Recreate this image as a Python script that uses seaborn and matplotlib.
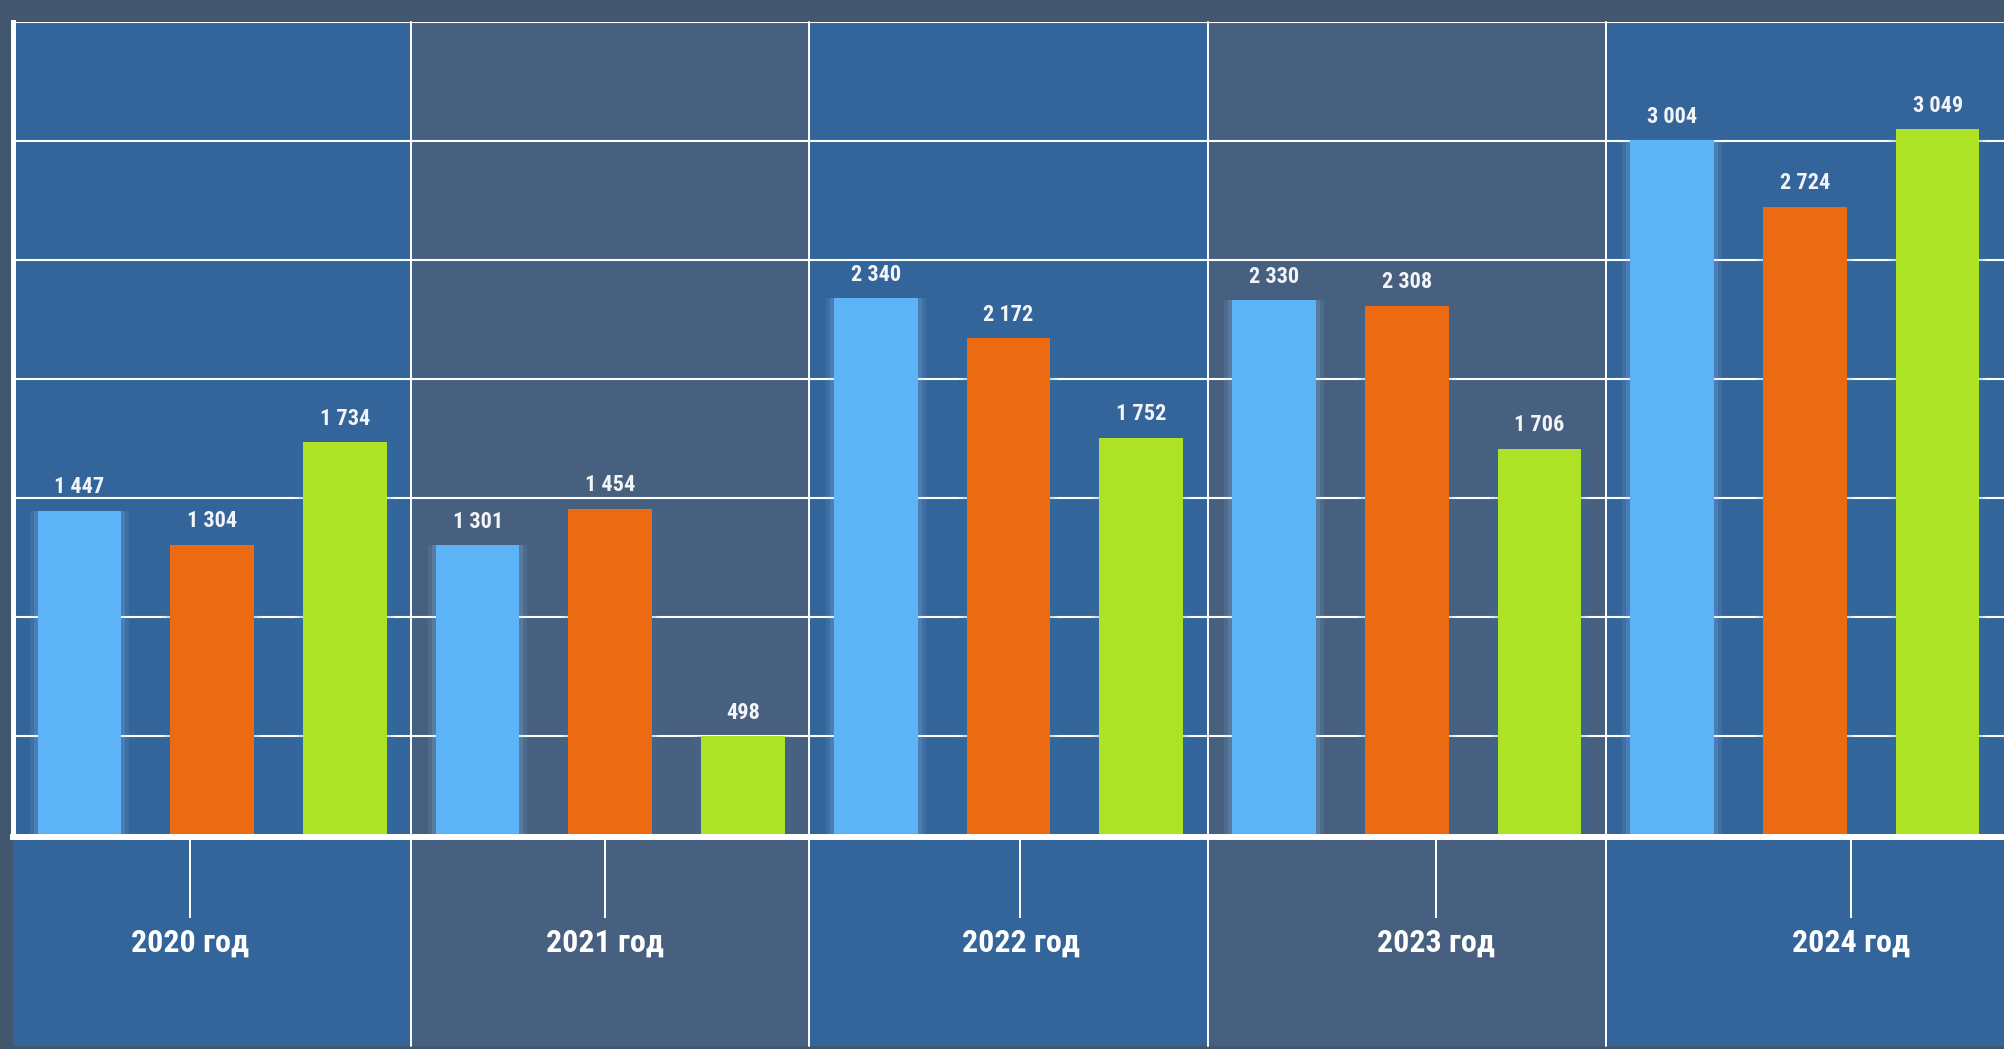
import matplotlib
matplotlib.use("Agg")
import matplotlib.pyplot as plt
from matplotlib import font_manager as fm
import seaborn as sns
import pandas as pd

# ---- data ----
years = ["2020 год", "2021 год", "2022 год", "2023 год", "2024 год"]
series_names = ["Ряд 1", "Ряд 2", "Ряд 3"]
series1 = [1447, 1301, 2340, 2330, 3004]
series2 = [1304, 1454, 2172, 2308, 2724]
series3 = [1734, 498, 1752, 1706, 3049]
bar_colors = ["#5cb3f5", "#ec6a12", "#aee224"]
grid_values = [500, 1000, 1500, 2000, 2500, 3000, 3500]

df = pd.DataFrame({
    "year": years * 3,
    "series": [series_names[0]] * 5 + [series_names[1]] * 5 + [series_names[2]] * 5,
    "value": series1 + series2 + series3,
})

# ---- font choice ----
available = {f.name for f in fm.fontManager.ttflist}
family = "DejaVu Sans"
for cand in ["Liberation Sans Narrow", "Roboto Condensed", "Open Sans Condensed", "DejaVu Sans"]:
    if cand in available:
        family = cand
        break

sns.set_theme(style="white")
plt.rcParams["font.family"] = [family, "DejaVu Sans"]

W, H = 2004, 1049
fig = plt.figure(figsize=(W / 100, H / 100), dpi=100, facecolor="#42566e")
left_px, top_px, base_px = 13, 22, 837
ax = fig.add_axes([left_px / W, 1 - base_px / H, (W - left_px) / W, (base_px - top_px) / H])
ax.set_facecolor("none")

# background panels (alternating)
panel_colors = ["#34659a", "#48607f"]
trans = ax.get_xaxis_transform()
ymin_ax = -(H - 3 - base_px) / (base_px - top_px)
for i in range(len(years)):
    ax.add_patch(plt.Rectangle((i - 0.5, ymin_ax), 1.0, 1 - ymin_ax, transform=trans,
                               facecolor=panel_colors[i % 2], edgecolor="none",
                               clip_on=False, zorder=0))
for i in range(len(years) - 1):
    ax.plot([i + 0.5, i + 0.5], [ymin_ax, 1.0], transform=trans, color="white",
            lw=1.4, clip_on=False, zorder=1)

# gridlines
for g in grid_values:
    ax.axhline(g, color="white", lw=1.5, zorder=1.5)

# soft glow layers
glow_colors = ["#8fd0ff", "#2f6fa8", "#2f6fa8"]
for gap, alpha in [(0.25, 0.10), (0.31, 0.16)]:
    sns.barplot(data=df, x="year", y="value", hue="series", palette=glow_colors,
                width=1.0, gap=gap, alpha=alpha, legend=False, ax=ax, zorder=2,
                errorbar=None, saturation=1, edgecolor="none", linewidth=0)
# main bars
sns.barplot(data=df, x="year", y="value", hue="series", palette=bar_colors,
            width=1.0, gap=0.37, legend=False, ax=ax, zorder=3,
            errorbar=None, saturation=1, edgecolor="none", linewidth=0)

main_containers = ax.containers[-3:]
for cont in main_containers:
    labels = [f"{int(v):,}".replace(",", " ") for v in cont.datavalues]
    ax.bar_label(cont, labels=labels, padding=9, color="#f2f4f7", fontsize=16,
                 fontweight="bold", zorder=5)

ax.set_xlim(-0.5, len(years) - 0.5)
ax.set_ylim(75, 3500)
ax.set_xlabel("")
ax.set_ylabel("")
ax.set_xticks([])
ax.set_yticks([])

for s in ["top", "right"]:
    ax.spines[s].set_visible(False)
ax.spines["left"].set_color("white")
ax.spines["left"].set_linewidth(3.6)
ax.spines["left"].set_zorder(6)
ax.spines["bottom"].set_color("white")
ax.spines["bottom"].set_linewidth(4.3)
ax.spines["bottom"].set_zorder(6)

# year label axis (slightly different spacing, as in the reference)
ax2 = ax.twiny()
ax2.set_facecolor("none")
tick0, step = 190, 415.25
ax2.set_xlim((left_px - tick0) / step, (W - tick0) / step)
ax2.xaxis.set_ticks_position("bottom")
ax2.xaxis.set_label_position("bottom")
ax2.set_xticks(range(len(years)))
ax2.set_xticklabels(years, color="white", fontsize=23, fontweight="bold")
ax2.tick_params(axis="x", direction="out", length=58, width=1.4, color="white", pad=7)
for s in ax2.spines.values():
    s.set_visible(False)
ax2.set_yticks([])

fig.savefig("out.png", dpi=100, facecolor=fig.get_facecolor())
